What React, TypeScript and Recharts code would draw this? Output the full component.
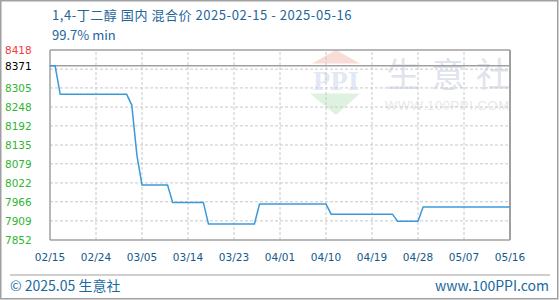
import React from 'react';
import { LineChart, Line, XAxis, YAxis, ReferenceLine } from 'recharts';

// Price change points (daily quotes, flat between them)
const priceDates = [
  '2025-02-15', '2025-02-16', '2025-02-17', '2025-03-02', '2025-03-03',
  '2025-03-04', '2025-03-05', '2025-03-10', '2025-03-11', '2025-03-17',
  '2025-03-18', '2025-03-27', '2025-03-28', '2025-04-10', '2025-04-11',
  '2025-04-23', '2025-04-24', '2025-04-28', '2025-04-29', '2025-05-16',
];
const prices = [
  8371, 8371, 8286, 8286, 8254,
  8105, 8016, 8016, 7964, 7964,
  7900, 7900, 7959, 7959, 7929,
  7929, 7908, 7908, 7950, 7950,
];

const xTickDates = [
  '2025-02-15', '2025-02-24', '2025-03-05', '2025-03-14', '2025-03-23', '2025-04-01',
  '2025-04-10', '2025-04-19', '2025-04-28', '2025-05-07', '2025-05-16',
];

const priceTicks = [8418, 8371, 8305, 8248, 8192, 8135, 8079, 8022, 7966, 7909, 7852];
const changeLabels = ['0.56%', '0.00%', '-0.79%', '-1.46%', '-2.14%', '-2.82%', '-3.49%', '-4.17%', '-4.84%', '-5.52%', '-6.19%'];
const gridLevels = [8361, 8305, 8248, 8192, 8135, 8079, 8022, 7966, 7909];

const basePrice = 8371;
const yMin = 7852;
const yMax = 8418;

const DAY = 86400000;
const startMs = Date.parse(priceDates[0]);
const dayOf = (d: string) => Math.round((Date.parse(d) - startMs) / DAY);
const lastDay = dayOf(priceDates[priceDates.length - 1]);

const data = priceDates.map((d, i) => ({ day: dayOf(d), price: prices[i] }));
const xTicks = xTickDates.map(dayOf);
const innerXTicks = xTicks.slice(1, -1);

const tickColor = (i: number) => (i === 0 ? '#f23b3b' : i === 1 ? '#000000' : '#2fb52f');

const LeftTick = (props: any) => {
  const { y, payload } = props;
  const i = priceTicks.indexOf(payload.value);
  return (
    <text x={5} y={y} dy={4} fill={tickColor(i)} fontSize={10.5} fontFamily="'DejaVu Sans', sans-serif">
      {payload.value}
    </text>
  );
};

const RightTick = (props: any) => {
  const { y, payload } = props;
  const i = priceTicks.indexOf(payload.value);
  return (
    <text x={515} y={y} dy={4} fill={tickColor(i)} fontSize={10} fontFamily="'DejaVu Sans Mono', monospace">
      {changeLabels[i]}
    </text>
  );
};

const DateTick = (props: any) => {
  const { x, y, payload } = props;
  const s = xTickDates[xTicks.indexOf(payload.value)] || '';
  return (
    <text x={x} y={y} dy={21} textAnchor="middle" fill="#13598a" fontSize={10.5} fontFamily="'DejaVu Sans', sans-serif">
      {s.slice(5).replace('-', '/')}
    </text>
  );
};

// faint logo + site name behind the plot
const Watermark = () => (
  <svg width={560} height={300} style={{ position: 'absolute', left: 0, top: 0 }}>
    <polygon points="336,50 312,63.5 360,63.5" fill="#f9dcd5" />
    <text x={313} y={90} fontSize={28} fontWeight="bold" fontFamily="'Liberation Serif', serif" fill="#e2e8f4" textLength={46}>
      PPI
    </text>
    <polygon points="310,93.5 360,93.5 336,115" fill="#dff2df" />
    <text x={386} y={87} fontSize={34} letterSpacing={11} fontFamily="'Noto Sans CJK SC', sans-serif" fill="#dfe3ee">
      生意社
    </text>
    <text x={385} y={110} fontSize={13} letterSpacing={0.6} fontFamily="'Liberation Sans', sans-serif" fill="#e8e8e8">
      WWW.100PPI.COM
    </text>
  </svg>
);

const Frame = () => (
  <svg width={560} height={300} style={{ position: 'absolute', left: 0, top: 0, pointerEvents: 'none' }}>
    <rect x={0.75} y={0.75} width={557} height={298} fill="none" stroke="#a0a0a0" strokeWidth={1.5} />
    <text x={52} y={20} fontSize={13} letterSpacing={0.55} fill="#1f669b" fontFamily="'Noto Sans CJK SC', sans-serif">
      1,4-丁二醇 国内 混合价 2025-02-15 - 2025-05-16
    </text>
    <text x={52} y={40} fontSize={13} fill="#1f669b" fontFamily="'Noto Sans CJK SC', sans-serif">
      99.7% min
    </text>
    <line x1={10} y1={275} x2={550} y2={275} stroke="#a0a0a0" strokeWidth={1.2} />
    <text x={10} y={291} fontSize={14} fill="#1a6a9f" fontFamily="'Noto Sans CJK SC', sans-serif">
      © 2025.05 生意社
    </text>
    <text x={549} y={291} textAnchor="end" fontSize={14} fill="#1a6a9f" fontFamily="'Noto Sans CJK SC', sans-serif">
      www.100PPI.com
    </text>
  </svg>
);

export default function App() {
  return (
    <div style={{ position: 'relative', width: 560, height: 300, background: '#fff' }}>
      <style>{'body{margin:0}'}</style>
      <Watermark />
      <div style={{ position: 'absolute', left: 0, top: 0 }}>
        <LineChart width={560} height={300} data={data} margin={{ top: 50, right: 0, bottom: 30, left: 0 }}>
          <XAxis
            dataKey="day"
            type="number"
            domain={[0, lastDay]}
            ticks={xTicks}
            interval={0}
            axisLine={false}
            tickLine={false}
            tickSize={0}
            tickMargin={0}
            height={30}
            tick={<DateTick />}
          />
          <YAxis
            yAxisId="left"
            type="number"
            domain={[yMin, yMax]}
            ticks={priceTicks}
            interval={0}
            width={50}
            axisLine={false}
            tickLine={false}
            tick={<LeftTick />}
          />
          <YAxis
            yAxisId="right"
            orientation="right"
            type="number"
            domain={[yMin, yMax]}
            ticks={priceTicks}
            interval={0}
            width={50}
            axisLine={false}
            tickLine={false}
            tick={<RightTick />}
          />
          {gridLevels.map((v) => (
            <ReferenceLine key={'h' + v} yAxisId="left" y={v} stroke="#c8c8c8" strokeDasharray="3 2" />
          ))}
          {innerXTicks.map((d) => (
            <ReferenceLine key={'v' + d} yAxisId="left" x={d} stroke="#c8c8c8" strokeDasharray="3 2" />
          ))}
          <ReferenceLine yAxisId="left" y={basePrice} stroke="#a0a0a0" strokeWidth={1.5} />
          <ReferenceLine yAxisId="left" y={yMax} stroke="#a0a0a0" strokeWidth={1.5} />
          <ReferenceLine yAxisId="left" y={yMin} stroke="#a0a0a0" strokeWidth={1.5} />
          <ReferenceLine yAxisId="left" x={0} stroke="#a0a0a0" strokeWidth={1.5} />
          <ReferenceLine yAxisId="left" x={lastDay} stroke="#a0a0a0" strokeWidth={2} />
          <Line
            yAxisId="left"
            type="linear"
            dataKey="price"
            stroke="#3a9ad9"
            strokeWidth={1.5}
            dot={false}
            isAnimationActive={false}
          />
        </LineChart>
      </div>
      <Frame />
    </div>
  );
}
